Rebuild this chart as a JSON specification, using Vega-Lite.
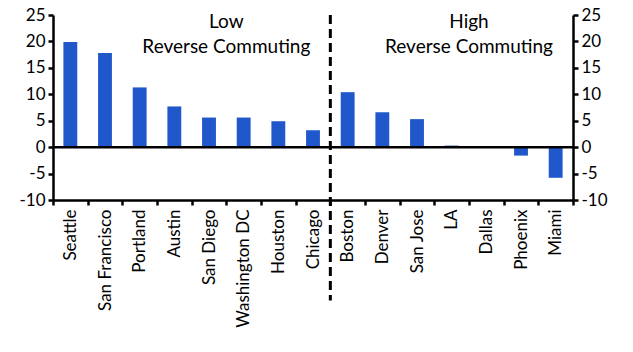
{
  "$schema": "https://vega.github.io/schema/vega-lite/v6.json",
  "autosize": {"type": "none"},
  "width": 520,
  "height": 185,
  "padding": {"left": 53, "top": 15, "right": 60, "bottom": 152},
  "background": "white",
  "config": {
    "view": {"stroke": null},
    "font": "Lato",
    "axis": {"labelFont": "Lato", "labelFontSize": 17, "labelColor": "black", "domainColor": "black", "tickColor": "black", "domainWidth": 2.5, "tickWidth": 2.5, "tickSize": 5, "grid": false, "title": null}
  },
  "datasets": {
    "bars": [
      {"city": "Seattle", "value": 19.9},
      {"city": "San Francisco", "value": 17.8},
      {"city": "Portland", "value": 11.3},
      {"city": "Austin", "value": 7.7},
      {"city": "San Diego", "value": 5.6},
      {"city": "Washington DC", "value": 5.6},
      {"city": "Houston", "value": 4.9},
      {"city": "Chicago", "value": 3.2},
      {"city": "Boston", "value": 10.4},
      {"city": "Denver", "value": 6.6},
      {"city": "San Jose", "value": 5.3},
      {"city": "LA", "value": 0.3},
      {"city": "Dallas", "value": 0.0},
      {"city": "Phoenix", "value": -1.6},
      {"city": "Miami", "value": -5.8}
    ],
    "labels": [
      {"city": "Washington DC", "y": 23.6, "text": "Low\nReverse Commuting"},
      {"city": "Dallas", "y": 23.6, "text": "High\nReverse Commuting"}
    ],
    "divider": [{"city": "Boston", "top": 25, "bottom": -29}],
    "zero": [{"value": 0}]
  },
  "layer": [
    {
      "data": {"name": "bars"},
      "mark": {"type": "bar", "color": "#2058CC", "width": {"band": 0.4}},
      "encoding": {
        "x": {"field": "city", "type": "nominal", "sort": ["Seattle", "San Francisco", "Portland", "Austin", "San Diego", "Washington DC", "Houston", "Chicago", "Boston", "Denver", "San Jose", "LA", "Dallas", "Phoenix", "Miami"],
          "scale": {"domain": ["Seattle", "San Francisco", "Portland", "Austin", "San Diego", "Washington DC", "Houston", "Chicago", "Boston", "Denver", "San Jose", "LA", "Dallas", "Phoenix", "Miami"], "paddingInner": 0, "paddingOuter": 0},
          "axis": {"orient": "bottom", "labelAngle": -90, "labelAlign": "right", "labelBaseline": "middle", "labelPadding": 4, "tickBand": "extent", "domainWidth": 2.5, "offset": 0}},
        "y": {"field": "value", "type": "quantitative",
          "scale": {"domain": [-10, 25], "nice": false, "zero": false},
          "axis": {"orient": "left", "values": [-10, -5, 0, 5, 10, 15, 20, 25], "labelExpr": "datum.value < 0 ? '-' + abs(datum.value) : '' + datum.value", "labelPadding": 3}}
      }
    },
    {
      "data": {"name": "zero"},
      "mark": {"type": "rule", "color": "black", "strokeWidth": 2.5},
      "encoding": {
        "y": {"field": "value", "type": "quantitative",
          "axis": {"orient": "right", "values": [-10, -5, 0, 5, 10, 15, 20, 25], "labelExpr": "datum.value < 0 ? '-' + abs(datum.value) : '' + datum.value", "labelPadding": 3}}
      }
    },
    {
      "data": {"name": "divider"},
      "mark": {"type": "rule", "color": "black", "strokeWidth": 3, "strokeDash": [9, 5], "clip": false},
      "encoding": {
        "x": {"field": "city", "type": "nominal", "bandPosition": 0},
        "y": {"field": "top", "type": "quantitative", "axis": null},
        "y2": {"field": "bottom"}
      }
    },
    {
      "data": {"name": "labels"},
      "mark": {"type": "text", "fontSize": 19, "font": "Lato", "lineBreak": "\n", "lineHeight": 25, "align": "center", "baseline": "middle", "color": "black"},
      "encoding": {
        "x": {"field": "city", "type": "nominal", "bandPosition": 0},
        "y": {"field": "y", "type": "quantitative", "axis": null},
        "text": {"field": "text"}
      }
    }
  ],
  "resolve": {"axis": {"y": "independent"}}
}
